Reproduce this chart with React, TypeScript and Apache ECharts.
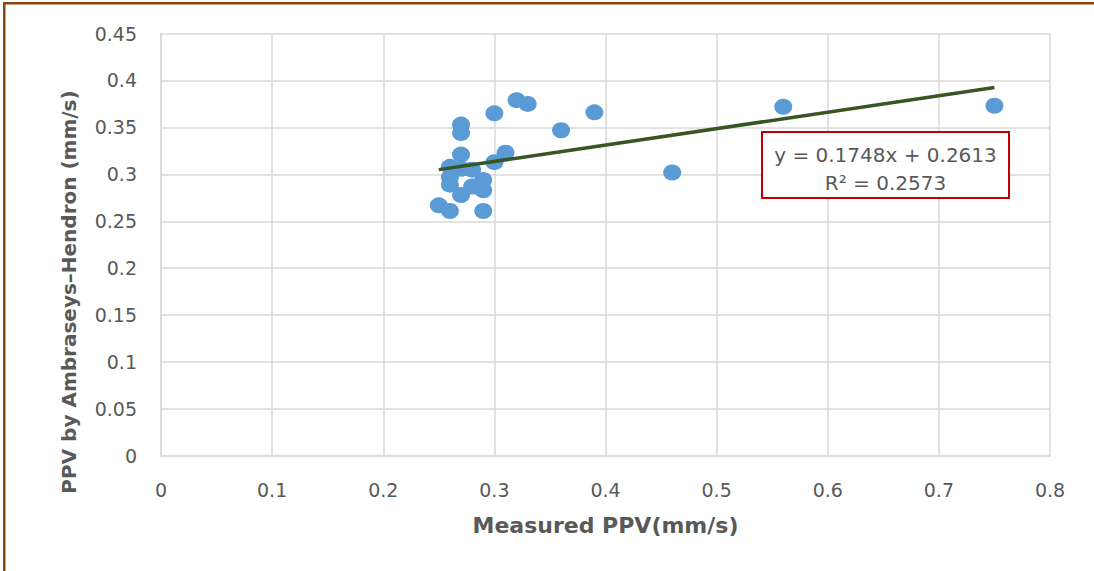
import React, { useEffect, useRef } from "react";
import * as echarts from "echarts";

const measuredPPV = [
  0.25, 0.26, 0.29, 0.26, 0.26, 0.26, 0.27, 0.28, 0.28, 0.29, 0.29, 0.27, 0.27,
  0.27, 0.3, 0.31, 0.3, 0.32, 0.33, 0.36, 0.39, 0.46, 0.56, 0.75, 0.27,
];
const predictedPPV = [
  0.267, 0.261, 0.261, 0.289, 0.297, 0.308, 0.278, 0.287, 0.305, 0.294, 0.283,
  0.321, 0.344, 0.353, 0.313, 0.323, 0.365, 0.379, 0.375, 0.347, 0.366, 0.302,
  0.372, 0.373, 0.306,
];
const trendX = [0.25, 0.75];
const trendY = [0.305, 0.3924];
const equationText = "y = 0.1748x + 0.2613";
const r2Text = "R² = 0.2573";
const xTitle = "Measured PPV(mm/s)";
const yTitle = "PPV by Ambraseys–Hendron (mm/s)";

const FONT = "'DejaVu Sans', 'Noto Sans', sans-serif";
const GREY = "#595959";

export default function App() {
  const ref = useRef<HTMLDivElement>(null);
  useEffect(() => {
    const chart = echarts.init(ref.current!, null, { renderer: "svg" });
    const points = measuredPPV.map((x, i) => [x, predictedPPV[i]]);
    const trend = trendX.map((x, i) => [x, trendY[i]]);
    chart.setOption({
      animation: false,
      backgroundColor: "#ffffff",
      grid: { left: 161, top: 33.5, width: 889, height: 422.5, containLabel: false },
      xAxis: {
        type: "value",
        min: 0,
        max: 0.8,
        interval: 0.1,
        name: xTitle,
        nameLocation: "middle",
        nameGap: 58,
        nameTextStyle: { color: GREY, fontSize: 22, fontWeight: "bold", fontFamily: FONT },
        axisLine: { show: true, lineStyle: { color: "#D9D9D9", width: 1.5 } },
        axisTick: { show: false },
        axisLabel: { color: GREY, fontSize: 19, fontFamily: FONT, margin: 24 },
        splitLine: { show: true, lineStyle: { color: "#D9D9D9", width: 1.5 } },
      },
      yAxis: {
        type: "value",
        min: 0,
        max: 0.45,
        interval: 0.05,
        axisLine: { show: true, lineStyle: { color: "#D9D9D9", width: 1.5 } },
        axisTick: { show: false },
        axisLabel: { color: GREY, fontSize: 19, fontFamily: FONT, margin: 24 },
        splitLine: { show: true, lineStyle: { color: "#D9D9D9", width: 1.5 } },
      },
      series: [
        {
          type: "scatter",
          data: points,
          symbol: "circle",
          symbolSize: [18, 16],
          itemStyle: { color: "#5B9BD5", opacity: 1 },
          z: 2,
        },
        {
          type: "line",
          data: trend,
          symbol: "none",
          lineStyle: { color: "#375623", width: 3.5 },
          z: 3,
        },
      ],
      graphic: [
        { type: "rect", shape: { x: 3, y: 2, width: 1091, height: 2.5 }, style: { fill: "#8B4513" }, silent: true },
        { type: "rect", shape: { x: 3, y: 2, width: 2.5, height: 569 }, style: { fill: "#8B4513" }, silent: true },
        {
          type: "text",
          x: 69,
          y: 292,
          rotation: Math.PI / 2,
          style: {
            text: yTitle,
            fill: GREY,
            fontSize: 20,
            fontWeight: "bold",
            fontFamily: FONT,
            align: "center",
            verticalAlign: "middle",
          },
        },
        {
          type: "rect",
          shape: { x: 762, y: 132, width: 247, height: 66 },
          style: { fill: "#ffffff", stroke: "#C00000", lineWidth: 2 },
          z: 10,
        },
        {
          type: "text",
          x: 885.5,
          y: 155,
          style: { text: equationText, fill: GREY, fontSize: 20, fontFamily: FONT, align: "center", verticalAlign: "middle" },
          z: 11,
        },
        {
          type: "text",
          x: 885.5,
          y: 183,
          style: { text: r2Text, fill: GREY, fontSize: 20, fontFamily: FONT, align: "center", verticalAlign: "middle" },
          z: 11,
        },
      ],
    });
    return () => chart.dispose();
  }, []);
  return (
    <div
      ref={ref}
      style={{ position: "absolute", left: 0, top: 0, width: 1094, height: 571, background: "#fff" }}
    />
  );
}
